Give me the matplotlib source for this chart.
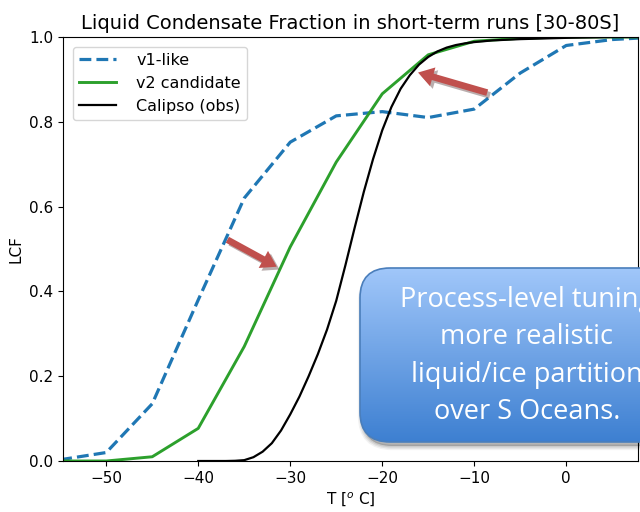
import numpy as np
import matplotlib
matplotlib.use("Agg")
import matplotlib.pyplot as plt
import matplotlib.patheffects as pe
from matplotlib.patches import FancyBboxPatch, FancyArrowPatch

# LCF vs temperature, 30-80S, short-term runs
T_MODEL = [-55, -50, -45, -40, -35, -30, -25, -20, -15, -10, -5, 0, 5, 10]
LCF_V1 = [0.003, 0.02, 0.135, 0.38, 0.62, 0.752, 0.814, 0.824, 0.81, 0.83,
          0.915, 0.98, 0.994, 1.0]
LCF_V2 = [0.0, 0.0, 0.01, 0.077, 0.27, 0.505, 0.705, 0.866, 0.958, 0.99,
          0.997, 1.0, 1.0, 1.0]

T_OBS = [-40, -37, -36, -35, -34, -33, -32, -31, -30, -29, -28, -27, -26, -25,
         -24, -23, -22, -21, -20, -19, -18, -17, -16, -15, -14, -13, -12,
         -11, -10, -8, -5, 0, 5, 8]
LCF_OBS = [0.0, 0.0, 0.0005, 0.002, 0.009, 0.022, 0.042, 0.072, 0.11, 0.152,
           0.2, 0.252, 0.31, 0.378, 0.462, 0.55, 0.635, 0.712, 0.78, 0.835,
           0.878, 0.91, 0.935, 0.953, 0.966, 0.975, 0.981, 0.985, 0.988,
           0.992, 0.995, 0.998, 1.0, 1.0]

RED = "#c0504d"

fig = plt.figure(figsize=(6.4, 5.12), dpi=100)
ax = fig.add_axes([63 / 640, 51 / 512, 575 / 640, 424 / 512])

ax.plot(T_MODEL, LCF_V1, ls="--", lw=2.3, color="#1f77b4", label="v1-like")
ax.plot(T_MODEL, LCF_V2, lw=2.1, color="#2ca02c", label="v2 candidate")
ax.plot(T_OBS, LCF_OBS, lw=1.6, color="black", label="Calipso (obs)")

ax.set_xlim(-54.7, 7.8)
ax.set_ylim(0.0, 1.0)
ax.set_xticks([-50, -40, -30, -20, -10, 0])
ax.set_yticks([0.0, 0.2, 0.4, 0.6, 0.8, 1.0])
ax.tick_params(labelsize=11)
ax.set_xlabel(r"T [$^o$ C]", fontsize=11)
ax.set_ylabel("LCF", fontsize=11)
ax.set_title("Liquid Condensate Fraction in short-term runs [30-80S]",
             fontsize=14)
ax.legend(loc="upper left", fontsize=11.5, handlelength=2.3,
          handletextpad=1.3, borderaxespad=0.6)

# arrows showing the shift from v1 to v2
shadow = [pe.SimplePatchShadow(offset=(2, -2), alpha=0.35), pe.Normal()]
for tail, head in [((-37.1, 0.525), (-31.2, 0.455)),
                   ((-8.3, 0.867), (-16.4, 0.918))]:
    arr = FancyArrowPatch(tail, head, arrowstyle="simple,head_length=11,"
                          "head_width=14,tail_width=4.8",
                          mutation_scale=1, color=RED, lw=0, zorder=5)
    arr.set_path_effects(shadow)
    ax.add_patch(arr)

# callout box with vertical blue gradient, in pixel coordinates
ov = fig.add_axes([0, 0, 1, 1])
ov.set_xlim(0, 640)
ov.set_ylim(512, 0)
ov.axis("off")
x0, y0, w, h = 360, 268, 336, 174
for k, a in [(6, 0.05), (4, 0.07), (2, 0.09)]:
    ov.add_patch(FancyBboxPatch((x0 + 2, y0 + 4), w, h,
                                boxstyle="round,pad=0,rounding_size=30",
                                fc="black", ec="black", lw=k, alpha=a))
box = FancyBboxPatch((x0, y0), w, h, boxstyle="round,pad=0,rounding_size=30",
                     fc="none", ec="#4a7ebb", lw=1.2, zorder=3)
ov.add_patch(box)
top = np.array([0.63, 0.78, 0.98])
bot = np.array([0.24, 0.50, 0.82])
t = np.linspace(0, 1, 256)[:, None, None]
grad = top + (bot - top) * t
im = ov.imshow(grad, extent=(x0, x0 + w, y0 + h, y0), aspect="auto",
               zorder=2, interpolation="bilinear")
im.set_clip_path(box)
ov.set_xlim(0, 640)
ov.set_ylim(512, 0)
ov.text(x0 + w / 2 - 1, y0 + h / 2 + 1,
        "Process-level tuning\nmore realistic\nliquid/ice partition\nover S Oceans.",
        ha="center", va="center", color="white", fontsize=19.5,
        family="Open Sans", linespacing=1.46, zorder=4)

fig.savefig("out.png", dpi=100)
